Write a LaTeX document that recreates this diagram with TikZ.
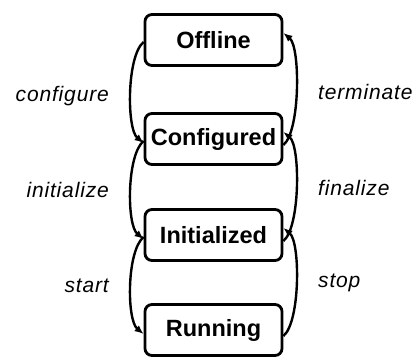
\documentclass[tikz,border=0pt]{standalone}
\usepackage{fontspec}
\setmainfont{Liberation Sans}
\usetikzlibrary{arrows.meta}
\begin{document}
\begin{tikzpicture}[x=1pt,y=-1pt,
  state/.style={draw, line width=2.8pt, rounded corners=7pt, minimum width=137pt, minimum height=51pt, inner sep=0pt, font=\fontsize{23.5}{25}\selectfont\bfseries},
  trans/.style={line width=2.4pt, -{Latex[length=9pt,width=7.5pt]}},
  lbl/.style={font=\fontsize{21}{23}\selectfont\itshape\addfontfeatures{LetterSpace=4}, inner sep=0pt}]
\useasboundingbox (0,0) rectangle (417,356);
\node[state] (off) at (213.5,40) {Offline};
\node[state] (conf) at (213.5,139) {Configured};
\node[state] (init) at (213.5,235) {Initialized};
\node[state] (run) at (213.5,330) {Running};
% left arcs (downward)
\draw[trans] ([yshift=-2pt]off.west) .. controls +(-17,14) and +(-17,-14) .. ([yshift=-4pt]conf.west);
\draw[trans] ([yshift=-2pt]conf.west) .. controls +(-17,14) and +(-17,-14) .. ([yshift=-4pt]init.west);
\draw[trans] ([yshift=-2pt]init.west) .. controls +(-17,14) and +(-17,-14) .. ([yshift=-4pt]run.west);
% right arcs (upward)
\draw[trans] ([yshift=-6pt]conf.east) .. controls +(17,-14) and +(17,14) .. ([yshift=7pt]off.east);
\draw[trans] ([yshift=-6pt]init.east) .. controls +(17,-14) and +(17,14) .. ([yshift=7pt]conf.east);
\draw[trans] ([yshift=-6pt]run.east) .. controls +(17,-14) and +(17,14) .. ([yshift=7pt]init.east);
% labels
\node[lbl, anchor=east] (lconf) at (109,96) {configure};
\node[lbl, anchor=east] (linit) at (109,190) {initialize};
\node[lbl, anchor=east] (lstart) at (109,286) {start};
\node[lbl, anchor=west] (lterm) at (318,92) {terminate};
\node[lbl, anchor=west] (lfin) at (318,188) {finalize};
\node[lbl, anchor=west] (lstop) at (318,283) {stop};
\end{tikzpicture}
\end{document}
